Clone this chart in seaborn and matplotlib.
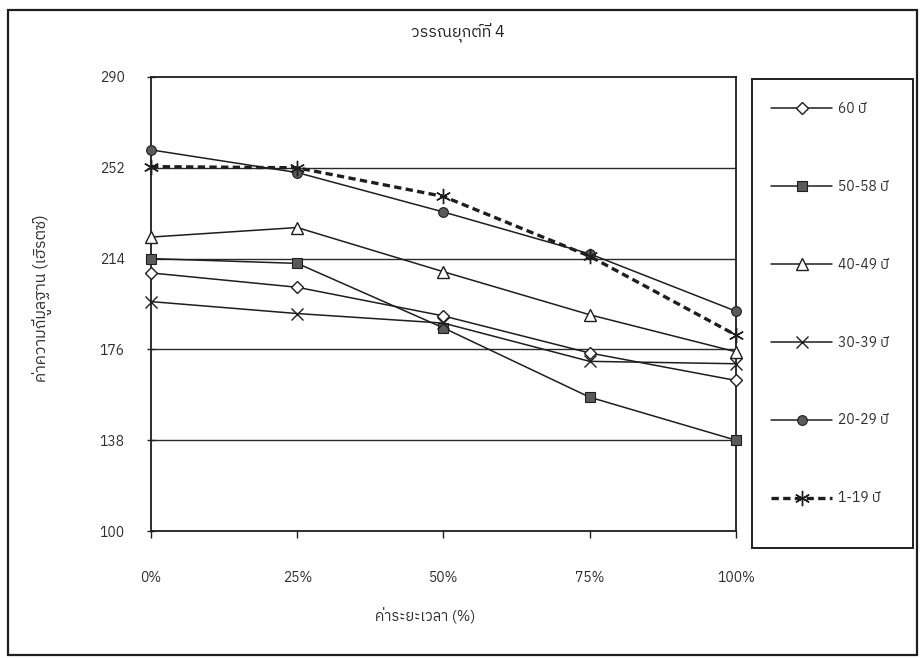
import matplotlib
matplotlib.use("Agg")
import matplotlib.pyplot as plt
import matplotlib.font_manager as fm
from matplotlib.ft2font import FT2Font
from matplotlib.patches import Rectangle
import seaborn as sns
import pandas as pd

# ---- data -------------------------------------------------------------
duration_pct = [0, 25, 50, 75, 100]
x_tick_labels = ["0%", "25%", "50%", "75%", "100%"]
y_ticks = [100, 138, 176, 214, 252, 290]

age_groups = ["60 ปี", "50-58 ปี", "40-49 ปี", "30-39 ปี", "20-29 ปี", "1-19 ปี"]
f0_60 = [208, 202, 190, 174.5, 163]
f0_50_58 = [214, 212, 185, 156, 138]
f0_40_49 = [223, 227, 208.5, 190.5, 175]
f0_30_39 = [196, 191, 187, 171, 170]
f0_20_29 = [259.5, 250, 233.5, 216, 192]
f0_1_19 = [252.5, 252, 240, 215, 182]

title_text = "วรรณยุกต์ที่ 4"
x_title = "ค่าระยะเวลา (%)"
y_title = "ค่าความถี่มูลฐาน (เฮิรตซ์)"


# ---- font with Thai coverage -----------------------------------------
def find_thai_family():
    found = []
    for path in fm.findSystemFonts():
        try:
            if 0x0E27 in FT2Font(path).get_charmap():
                found.append(fm.FontProperties(fname=path).get_name())
        except Exception:
            continue
    for name in found:
        if "Sans" in name or "Loma" in name or "Garuda" in name:
            return name
    return found[0] if found else "DejaVu Sans"


sns.set_theme(style="white")
thai = find_thai_family()
plt.rcParams["font.family"] = [thai, "DejaVu Sans"]

ink = "#1e1e1e"
gray_fill = "#5a5a5a"
text_gray = "#2e2e2e"

fig = plt.figure(figsize=(9.21, 6.58), dpi=100)
ax = fig.add_axes([0.164, 0.193, 0.635, 0.690])

styles = [
    (f0_60, dict(marker="D", ms=6.5, mfc="white", mec=ink, mew=1.0, ls="-", lw=1.1)),
    (f0_50_58, dict(marker="s", ms=7, mfc=gray_fill, mec=ink, mew=0.8, ls="-", lw=1.1)),
    (f0_40_49, dict(marker="^", ms=8, mfc="white", mec=ink, mew=1.0, ls="-", lw=1.1)),
    (f0_30_39, dict(marker="x", ms=8, mfc=ink, mec=ink, mew=1.0, ls="-", lw=1.1)),
    (f0_20_29, dict(marker="o", ms=7, mfc=gray_fill, mec=ink, mew=0.8, ls="-", lw=1.1)),
    (f0_1_19, dict(marker=(6, 2, 0), ms=11, mfc=ink, mec=ink, mew=1.0,
                   ls=(0, (2.2, 1.3)), lw=2.4)),
]

for label, (values, st) in zip(age_groups, styles):
    df = pd.DataFrame({"pct": duration_pct, "f0": values})
    sns.lineplot(data=df, x="pct", y="f0", ax=ax, color=ink, label=label,
                 marker=st["marker"], markersize=st["ms"],
                 markerfacecolor=st["mfc"], markeredgecolor=st["mec"],
                 markeredgewidth=st["mew"], linestyle=st["ls"],
                 linewidth=st["lw"], legend=False, clip_on=False, zorder=3)

ax.set_xlim(0, 100)
ax.set_ylim(100, 290)
ax.set_xticks(duration_pct)
ax.set_xticklabels(x_tick_labels)
ax.set_yticks(y_ticks)
ax.set_yticklabels([str(v) for v in y_ticks])
ax.set_xlabel("")
ax.set_ylabel("")

for v in y_ticks[1:-1]:
    ax.axhline(v, color="#2a2a2a", lw=1.0, zorder=1)

for side in ["left", "right", "top", "bottom"]:
    ax.spines[side].set_visible(True)
    ax.spines[side].set_color(ink)
    ax.spines[side].set_linewidth(1.3)

ax.tick_params(axis="x", which="both", bottom=True, direction="out",
               length=5, width=1.0, color=ink, pad=24, labelsize=10,
               labelcolor=text_gray)
ax.tick_params(axis="y", which="both", left=True, direction="inout",
               length=6, width=1.0, color=ink, pad=16, labelsize=10,
               labelcolor=text_gray)

# titles
fig.text(458 / 921, 1 - 33 / 658, title_text, ha="center", va="center",
         fontsize=11.5, color="#222222")
fig.text(425 / 921, 1 - 616 / 658, x_title, ha="center", va="center",
         fontsize=10.5, color=text_gray)
fig.text(43 / 921, 1 - 298 / 658, y_title, ha="center", va="center",
         rotation=90, fontsize=11.5, color=text_gray)

# legend box
fig.patches.append(Rectangle((752 / 921, 1 - 548 / 658), 161 / 921, 469 / 658,
                             transform=fig.transFigure, fill=False,
                             edgecolor=ink, lw=1.4))
handles, labels = ax.get_legend_handles_labels()
leg = fig.legend(handles, labels, loc="upper left",
                 bbox_to_anchor=(764 / 921, 1 - 95 / 658),
                 frameon=False, fontsize=10, handlelength=4.4,
                 handletextpad=0.4, labelspacing=4.6, borderpad=0)
for t in leg.get_texts():
    t.set_color(text_gray)

# outer frame
fig.patches.append(Rectangle((8 / 921, 1 - 655 / 658), 909 / 921, 645 / 658,
                             transform=fig.transFigure, fill=False,
                             edgecolor=ink, lw=1.6))

fig.savefig("out.png", dpi=100)
